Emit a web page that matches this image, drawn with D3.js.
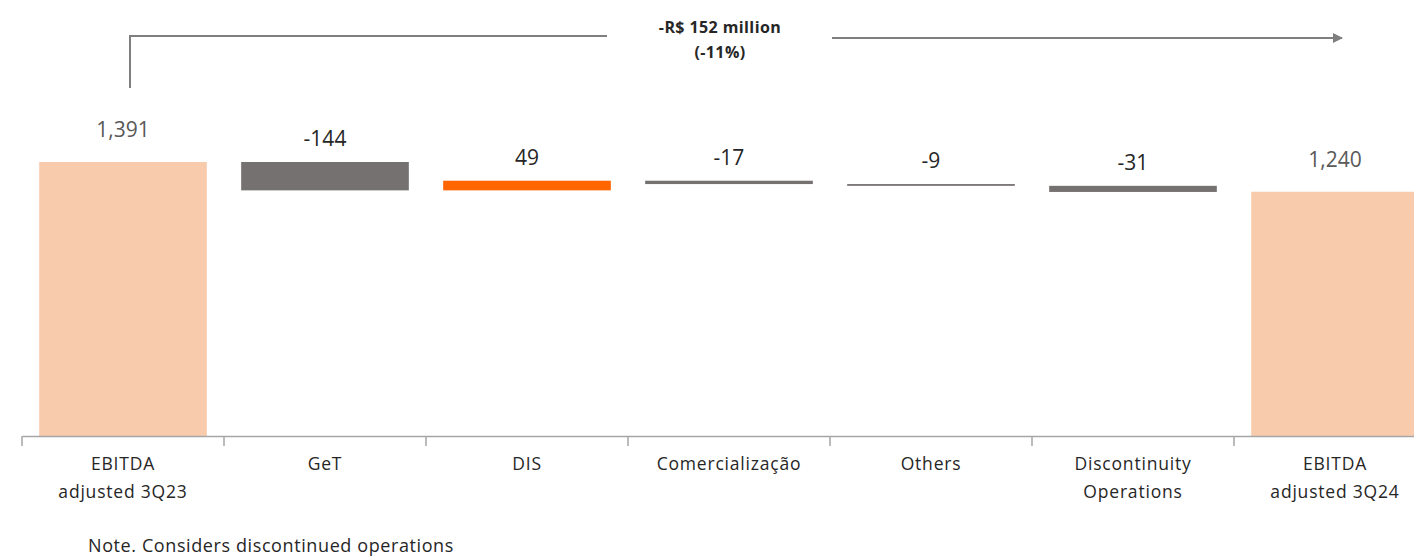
<!DOCTYPE html>
<html>
<head>
<meta charset="utf-8">
<script src="https://cdn.jsdelivr.net/npm/d3@7"></script>
<style>
  body { margin: 0; background: #fff; }
  text { font-family: "Open Sans", sans-serif; }
</style>
</head>
<body>
<script>
var w = 1414;
var h = 556;

// data
var categories = ["EBITDA|adjusted 3Q23", "GeT", "DIS", "Comercialização", "Others", "Discontinuity|Operations", "EBITDA|adjusted 3Q24"];
var values = [1391, -144, 49, -17, -9, -31, 1240];
var kinds = ["total", "delta", "delta", "delta", "delta", "delta", "total"];
var valueLabels = ["1,391", "-144", "49", "-17", "-9", "-31", "1,240"];
var headline = ["-R$ 152 million", "(-11%)"];
var note = "Note. Considers discontinued operations";

// build waterfall steps
var run = 0;
var steps = values.map(function(v, i) {
  var s;
  if (kinds[i] == "total") {
    s = { y0: 0, y1: v };
    run = v;
  } else {
    s = { y0: run, y1: run + v };
    run = run + v;
  }
  s.cat = categories[i];
  s.v = v;
  s.kind = kinds[i];
  s.label = valueLabels[i];
  return s;
});

var baseY = 436;
var topY = 162;

//Create scale functions
var xScale = d3.scaleBand()
  .domain(categories)
  .range([22, 22 + 7 * 202])
  .paddingInner(0.17)
  .paddingOuter(0.085);

var yScale = d3.scaleLinear()
  .domain([0, d3.max(values)])
  .range([baseY, topY]);

function barColor(d) {
  if (d.kind == "total") return "#f8cbad";
  if (d.v > 0) return "#ff6600";
  return "#767171";
}

//Create SVG element
var svg = d3.select("body")
  .append("svg")
  .attr("width", w)
  .attr("height", h);

//Bars
svg.selectAll("rect.bar")
  .data(steps)
  .enter()
  .append("rect")
  .attr("class", "bar")
  .attr("x", function(d) { return xScale(d.cat); })
  .attr("y", function(d) { return yScale(Math.max(d.y0, d.y1)); })
  .attr("width", xScale.bandwidth())
  .attr("height", function(d) { return Math.abs(yScale(d.y0) - yScale(d.y1)); })
  .attr("fill", barColor);

//Value labels
svg.selectAll("text.val")
  .data(steps)
  .enter()
  .append("text")
  .attr("class", "val")
  .attr("x", function(d) { return xScale(d.cat) + xScale.bandwidth() / 2; })
  .attr("y", function(d) { return yScale(Math.max(d.y0, d.y1)) - (d.kind == "total" ? 25 : 16); })
  .attr("text-anchor", "middle")
  .attr("font-size", 21)
  .attr("fill", function(d) { return d.kind == "total" ? "#595959" : "#262626"; })
  .text(function(d) { return d.label; });

//X axis
var xAxis = d3.axisBottom(xScale)
  .tickSize(0)
  .tickPadding(22)
  .tickSizeOuter(0);

var gx = svg.append("g")
  .attr("transform", "translate(0," + baseY + ")")
  .call(xAxis);

gx.select(".domain").attr("stroke", "#a6a6a6").attr("stroke-width", 1.5);

gx.selectAll(".tick text")
  .attr("font-size", 17.5)
  .attr("letter-spacing", 0.8)
  .attr("fill", "#262626")
  .attr("font-family", "Open Sans, sans-serif")
  .text(null)
  .each(function(d) {
    var parts = d.split("|");
    var t = d3.select(this);
    parts.forEach(function(p, i) {
      t.append("tspan")
        .attr("x", 0)
        .attr("dy", i == 0 ? "0.71em" : "1.6em")
        .text(p);
    });
  });

//boundary ticks between categories
var half = (xScale.step() - xScale.bandwidth()) / 2;
gx.selectAll("line.bound")
  .data(categories)
  .enter()
  .append("line")
  .attr("class", "bound")
  .attr("x1", function(d) { return xScale(d) - half; })
  .attr("x2", function(d) { return xScale(d) - half; })
  .attr("y1", 0)
  .attr("y2", 10)
  .attr("stroke", "#a6a6a6")
  .attr("stroke-width", 1.5);

//Headline bracket
var lx = xScale(categories[0]) + xScale.bandwidth() / 2 + 7;
svg.append("defs").append("marker")
  .attr("id", "arrow")
  .attr("viewBox", "0 0 10 10")
  .attr("refX", 9)
  .attr("refY", 5)
  .attr("markerWidth", 5)
  .attr("markerHeight", 5)
  .attr("orient", "auto")
  .append("path")
  .attr("d", "M0,0 L10,5 L0,10 z")
  .attr("fill", "#7f7f7f");

svg.append("path")
  .attr("d", "M" + lx + ",88 V36 H607")
  .attr("fill", "none")
  .attr("stroke", "#7f7f7f")
  .attr("stroke-width", 2);

svg.append("line")
  .attr("x1", 832).attr("y1", 38)
  .attr("x2", 1342).attr("y2", 38)
  .attr("stroke", "#7f7f7f")
  .attr("stroke-width", 2)
  .attr("marker-end", "url(#arrow)");

svg.selectAll("text.head")
  .data(headline)
  .enter()
  .append("text")
  .attr("class", "head")
  .attr("x", 720)
  .attr("y", function(d, i) { return 33 + i * 25; })
  .attr("text-anchor", "middle")
  .attr("font-size", 16)
  .attr("letter-spacing", 0.4)
  .attr("font-weight", "bold")
  .attr("fill", "#262626")
  .text(function(d) { return d; });

//Note
svg.append("text")
  .attr("x", 88)
  .attr("y", 552)
  .attr("font-size", 18)
  .attr("letter-spacing", 0.6)
  .attr("fill", "#262626")
  .text(note);
</script>
</body>
</html>
